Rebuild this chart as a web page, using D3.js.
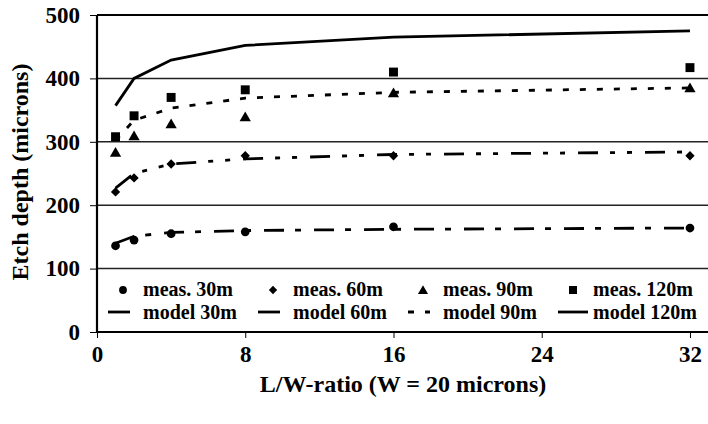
<!DOCTYPE html>
<html><head><meta charset="utf-8">
<script src="https://cdn.jsdelivr.net/npm/d3@7"></script>
<style>body{margin:0;background:#fff}svg{display:block}text{font-family:"Liberation Serif","Times New Roman",serif;font-weight:bold}</style>
</head><body><svg id="c" width="708" height="424"></svg>
<script>
const xVals = [1, 2, 4, 8, 16, 32];
const meas30 = [136, 145, 155, 158, 166, 164];
const meas60 = [221, 243, 265, 278, 278, 278];
const meas90 = [283, 309, 328, 339, 377, 385];
const meas120 = [308, 341, 370, 382, 410, 417];
const model30 = [140, 151, 157, 160, 162, 164];
const model60 = [227, 250, 265, 273, 280, 284];
const model90 = [302, 334, 353, 369, 378, 385];
const model120 = [357, 400, 429, 452, 465, 475];
const xTicks = [0, 8, 16, 24, 32];
const yTicks = [0, 100, 200, 300, 400, 500];
const xTitle = "L/W-ratio (W = 20 microns)";
const yTitle = "Etch depth (microns)";

const svg = d3.select("#c");
const x = d3.scaleLinear().domain([0, 33]).range([97, 708.5]);
const y = d3.scaleLinear().domain([0, 500]).range([332, 15]);

// gridlines
svg.append("g").selectAll("line").data(yTicks.filter(v => v > 0 && v < 500)).join("line")
  .attr("x1", x(0)).attr("x2", 708).attr("y1", d => y(d)).attr("y2", d => y(d))
  .attr("stroke", "#222").attr("stroke-width", 1.5);
svg.append("line").attr("x1", x(0)).attr("x2", 708).attr("y1", y(500)).attr("y2", y(500))
  .attr("stroke", "#000").attr("stroke-width", 2.2);

// axes
const xAxis = svg.append("g").attr("transform", `translate(0,${y(0)})`)
  .call(d3.axisBottom(x).tickValues(xTicks).tickSize(6).tickPadding(8).tickFormat(d3.format("d")));
const yAxis = svg.append("g").attr("transform", `translate(${x(0)},0)`)
  .call(d3.axisLeft(y).tickValues(yTicks).tickSize(7).tickPadding(10).tickFormat(d3.format("d")));
[xAxis, yAxis].forEach(a => {
  a.select(".domain").attr("stroke", "#000").attr("stroke-width", 2.2);
  a.selectAll(".tick line").attr("stroke", "#000").attr("stroke-width", 1);
  a.selectAll("text").attr("font-size", 23).attr("fill", "#000")
    .style("font-family", '"Liberation Serif",serif').style("font-weight", "bold");
});
xAxis.select(".domain").attr("d", `M${x(0)},0H708`);
yAxis.select(".domain").attr("d", `M0,${y(0)}V${y(500)}`);

// titles
svg.append("text").attr("x", 403).attr("y", 392).attr("text-anchor", "middle")
  .attr("font-size", 24).text(xTitle);
svg.append("text").attr("transform", "translate(28,172) rotate(-90)").attr("text-anchor", "middle")
  .attr("font-size", 24).text(yTitle);

// model lines
const line = d3.line().x((d, i) => x(xVals[i])).y(d => y(d));
const models = [
  {v: model30, dash: "20,11,6,13"},
  {v: model60, dash: "20,12,5,12,5,13"},
  {v: model90, dash: "6,11"},
  {v: model120, dash: null}
];
svg.append("g").selectAll("path").data(models).join("path")
  .attr("d", d => line(d.v)).attr("fill", "none").attr("stroke", "#000")
  .attr("stroke-width", 2.8).attr("stroke-dasharray", d => d.dash);

// markers
const sym = [
  {v: meas30, type: d3.symbolCircle, size: 60},
  {v: meas60, type: d3.symbolDiamond2, size: 55},
  {v: meas90, type: d3.symbolTriangle, size: 55},
  {v: meas120, type: d3.symbolSquare, size: 80}
];
sym.forEach(s => {
  svg.append("g").selectAll("path").data(s.v).join("path")
    .attr("transform", (d, i) => `translate(${x(xVals[i])},${y(d) + (s.type === d3.symbolTriangle ? 1 : 0)})`)
    .attr("d", d3.symbol().type(s.type).size(s.size)).attr("fill", "#000");
});

// legend
const legX = [123, 273, 423, 573];
const measLabels = ["meas. 30m", "meas. 60m", "meas. 90m", "meas. 120m"];
const modelLabels = ["model 30m", "model 60m", "model 90m", "model 120m"];
const lg = svg.append("g");
sym.forEach((s, i) => {
  lg.append("path").attr("transform", `translate(${legX[i]},${290 + (i === 2 ? 1 : 0)})`)
    .attr("d", d3.symbol().type(s.type).size(s.size * 0.8)).attr("fill", "#000");
  lg.append("text").attr("x", legX[i] + 20).attr("y", 296).attr("font-size", 20).text(measLabels[i]);
  lg.append("line").attr("x1", legX[i] - 15).attr("x2", legX[i] + (i === 3 ? 15 : 7)).attr("y1", 312).attr("y2", 312)
    .attr("stroke", "#000").attr("stroke-width", 2.8).attr("stroke-dasharray", models[i].dash === "6,11" ? "6,11" : null);
  lg.append("text").attr("x", legX[i] + 20).attr("y", 319).attr("font-size", 20).text(modelLabels[i]);
});
</script></body></html>
